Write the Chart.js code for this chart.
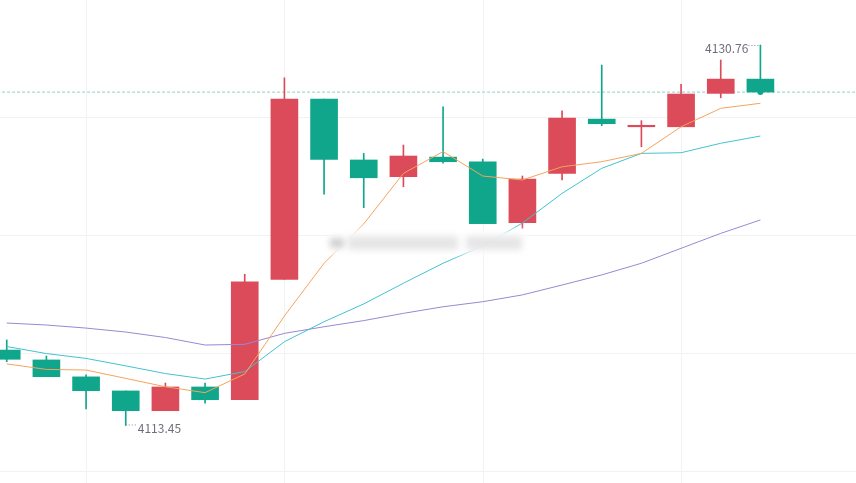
<!DOCTYPE html>
<html>
<head>
<meta charset="utf-8">
<script src="https://cdn.jsdelivr.net/npm/chart.js@4"></script>
<style>
  html, body { margin: 0; padding: 0; background: #fff; }
  #wrap { width: 856px; height: 483px; position: relative; }
</style>
</head>
<body>
<div id="wrap"><canvas id="kline"></canvas></div>
<script>
// candle data
var opens  = [4116.88, 4116.43, 4115.66, 4115.02, 4114.12, 4115.20, 4114.62, 4120.10, 4128.30, 4125.53,
              4124.77, 4125.66, 4125.44, 4122.68, 4124.92, 4127.39, 4127.04, 4127.04, 4128.56, 4129.21];
var highs  = [4117.34, 4116.61, 4115.75, 4115.02, 4115.38, 4115.38, 4120.33, 4129.27, 4128.30, 4125.83,
              4126.21, 4127.95, 4125.57, 4124.80, 4127.77, 4129.85, 4127.32, 4128.97, 4130.08, 4130.76];
var lows   = [4116.35, 4115.67, 4114.20, 4113.45, 4114.12, 4114.46, 4114.62, 4120.10, 4123.97, 4123.36,
              4124.31, 4125.38, 4122.63, 4122.42, 4124.62, 4127.09, 4126.13, 4127.04, 4128.36, 4128.62];
var closes = [4116.46, 4115.67, 4115.03, 4114.12, 4115.20, 4114.62, 4119.98, 4128.30, 4125.56, 4124.72,
              4125.71, 4125.45, 4122.63, 4124.66, 4127.44, 4127.18, 4127.06, 4128.53, 4129.21, 4128.62];

// moving averages
var ma5  = [4116.25, 4116.00, 4115.97, 4115.59, 4115.21, 4114.94, 4115.79, 4118.43, 4120.83, 4122.62,
            4124.92, 4125.91, 4124.80, 4124.62, 4125.22, 4125.45, 4125.83, 4127.04, 4127.88, 4128.11];
var ma10 = [4117.04, 4116.72, 4116.50, 4116.16, 4115.81, 4115.56, 4115.90, 4117.26, 4118.17, 4118.98,
            4119.92, 4120.83, 4121.62, 4122.66, 4124.01, 4125.15, 4125.83, 4125.86, 4126.29, 4126.62];
var ma30 = [4118.11, 4118.02, 4117.88, 4117.70, 4117.45, 4117.11, 4117.14, 4117.64, 4117.94, 4118.22,
            4118.55, 4118.85, 4119.08, 4119.39, 4119.84, 4120.30, 4120.83, 4121.51, 4122.19, 4122.80];

// grid positions
var gridIdx  = [2, 7, 12, 17];
var gridVals = [4127.47, 4122.10, 4116.73, 4111.36];

var UP = '#dc4b59', DOWN = '#10a68c';

function pts(arr) {
    return arr.map(function (v, i) { return {x: i, y: v}; });
}
function candleColor(ctx) {
    var i = ctx.dataIndex;
    return closes[i] >= opens[i] ? UP : DOWN;
}

var lastClose = closes[closes.length - 1];

// axes are hidden, so draw the light grid ourselves from the scales
var gridPlugin = {
    id: 'softgrid',
    beforeDatasetsDraw: function (chart) {
        var c = chart.ctx, xs = chart.scales.x, ys = chart.scales.y, a = chart.chartArea;
        c.save();
        c.strokeStyle = '#f1f2f4';
        c.lineWidth = 1;
        gridIdx.forEach(function (v) {
            var px = Math.round(xs.getPixelForValue(v)) + 0.5;
            c.beginPath(); c.moveTo(px, a.top); c.lineTo(px, a.bottom); c.stroke();
        });
        gridVals.forEach(function (v) {
            var py = Math.round(ys.getPixelForValue(v)) + 0.5;
            c.beginPath(); c.moveTo(a.left, py); c.lineTo(a.right, py); c.stroke();
        });
        c.restore();
    }
};

// min / max markers and last price dot
var extremesPlugin = {
    id: 'extremes',
    afterDatasetsDraw: function (chart) {
        var c = chart.ctx, xs = chart.scales.x, ys = chart.scales.y;
        var hi = 0, lo = 0;
        for (var i = 1; i < highs.length; i++) {
            if (highs[i] > highs[hi]) hi = i;
            if (lows[i] < lows[lo]) lo = i;
        }
        c.save();
        c.fillStyle = DOWN;
        c.beginPath();
        c.arc(xs.getPixelForValue(closes.length - 1), ys.getPixelForValue(lastClose), 3, 0, Math.PI * 2);
        c.fill();

        c.font = '12px "Noto Sans CJK SC", "Noto Sans", sans-serif';
        c.fillStyle = '#6e7079';
        c.strokeStyle = '#8a8c94';
        c.lineWidth = 1;
        c.setLineDash([1, 2]);
        c.textBaseline = 'middle';

        var hx = xs.getPixelForValue(hi), hy = ys.getPixelForValue(highs[hi]);
        c.beginPath();
        c.moveTo(hx - 12, hy + 0.5);
        c.lineTo(hx, hy + 0.5);
        c.stroke();
        c.textAlign = 'right';
        c.fillText(highs[hi].toFixed(2), hx - 12, hy + 3);

        var lx = xs.getPixelForValue(lo), ly = ys.getPixelForValue(lows[lo]);
        c.beginPath();
        c.moveTo(lx, ly - 0.5);
        c.lineTo(lx + 11, ly - 0.5);
        c.stroke();
        c.textAlign = 'left';
        c.fillText(lows[lo].toFixed(2), lx + 12, ly + 3);
        c.restore();
    }
};

// blurred watermark in the middle
var watermarkPlugin = {
    id: 'watermark',
    afterDraw: function (chart) {
        var c = chart.ctx;
        c.save();
        c.filter = 'blur(3px)';
        c.fillStyle = 'rgba(255,255,255,0.95)';
        c.fillRect(330, 230, 196, 24);
        c.fillStyle = 'rgba(170,170,170,0.55)';
        c.fillRect(330, 238, 14, 10);
        c.fillStyle = 'rgba(200,200,200,0.45)';
        c.fillRect(348, 236, 110, 14);
        c.fillRect(466, 236, 56, 14);
        c.restore();
    }
};

new Chart(document.getElementById('kline'), {
    type: 'bar',
    data: {
        datasets: [
            {
                label: 'wick',
                data: highs.map(function (h, i) { return {x: i, y: [lows[i], h]}; }),
                backgroundColor: candleColor,
                barThickness: 1,
                grouped: false,
                order: 3
            },
            {
                label: 'body',
                data: opens.map(function (o, i) { return {x: i, y: [o, closes[i]]}; }),
                backgroundColor: candleColor,
                barThickness: 27,
                minBarLength: 1.5,
                grouped: false,
                order: 2
            },
            {
                type: 'line', label: 'MA5', data: pts(ma5),
                borderColor: '#f5a35e', borderWidth: 1, pointRadius: 0, pointHoverRadius: 0, order: 1
            },
            {
                type: 'line', label: 'MA10', data: pts(ma10),
                borderColor: '#42c3cf', borderWidth: 1, pointRadius: 0, pointHoverRadius: 0, order: 1
            },
            {
                type: 'line', label: 'MA30', data: pts(ma30),
                borderColor: '#9b87d2', borderWidth: 1, pointRadius: 0, pointHoverRadius: 0, order: 1
            },
            {
                type: 'line', label: 'last',
                data: [{x: -1, y: lastClose}, {x: 23, y: lastClose}],
                borderColor: '#a6d9d2', borderWidth: 1.2, borderDash: [3, 2],
                pointRadius: 0, pointHoverRadius: 0, order: 4
            }
        ]
    },
    options: {
        responsive: true,
        maintainAspectRatio: false,
        animation: false,
        layout: { padding: 0, autoPadding: false },
        plugins: { legend: { display: false }, tooltip: { enabled: false } },
        scales: {
            x: { type: 'linear', display: false, min: -0.17, max: 21.41, offset: false },
            y: { display: false, min: 4110.83, max: 4132.81 }
        }
    },
    plugins: [gridPlugin, extremesPlugin, watermarkPlugin]
});
</script>
</body>
</html>
